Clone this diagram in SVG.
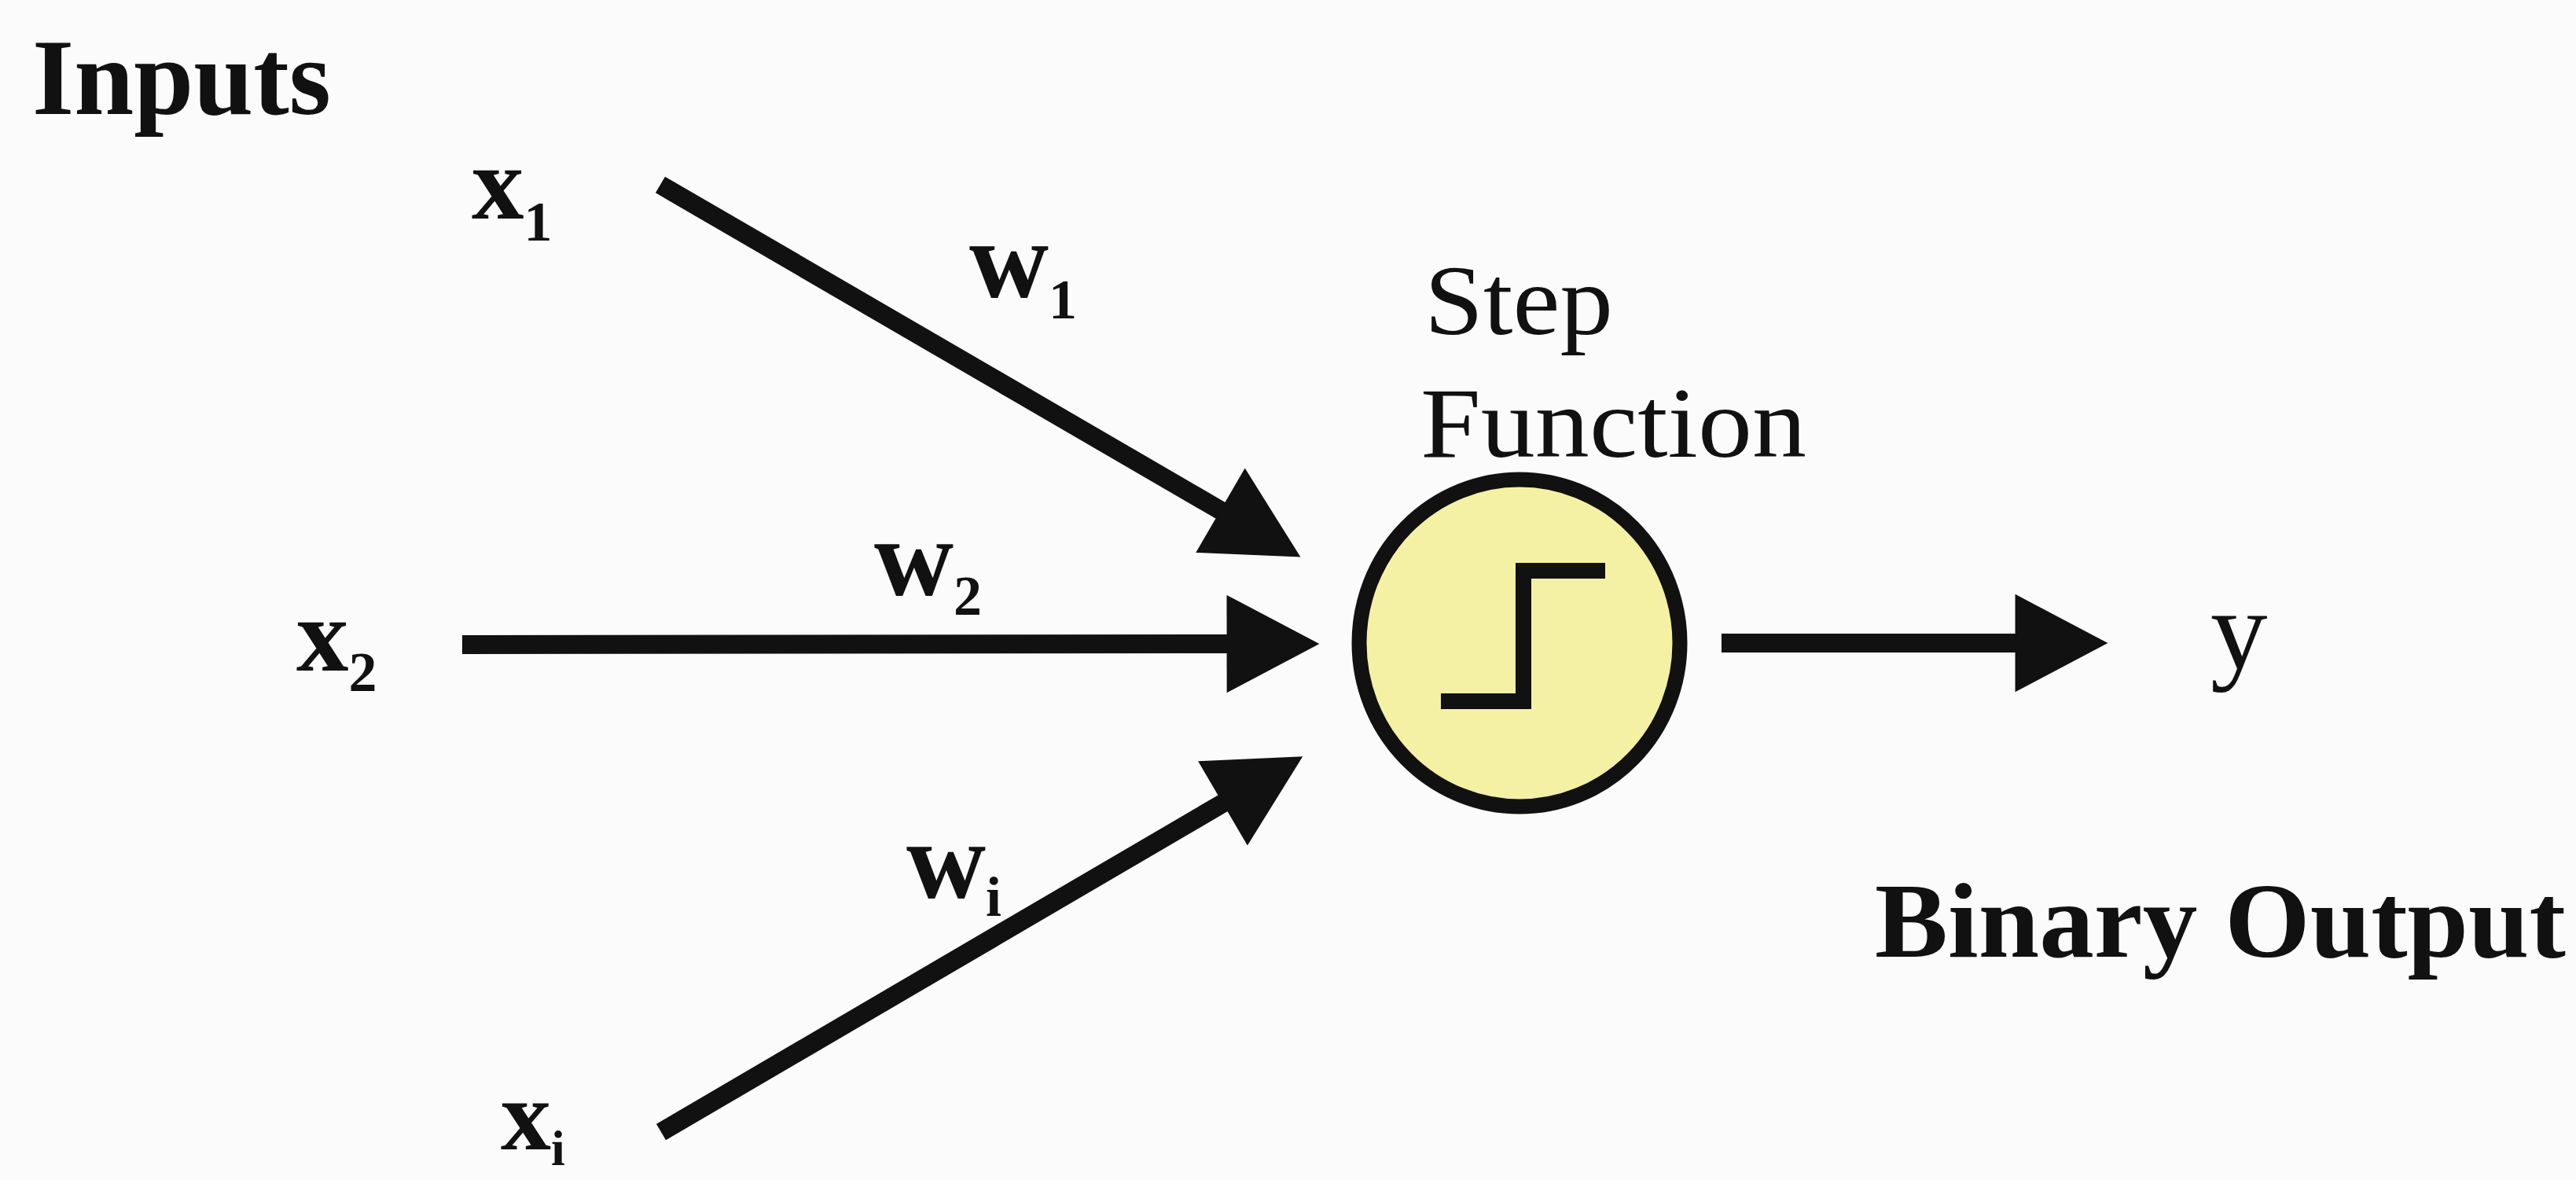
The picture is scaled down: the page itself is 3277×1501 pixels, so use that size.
<svg xmlns="http://www.w3.org/2000/svg" width="3277" height="1501" viewBox="0 0 3277 1501">
  <style>
    .lbl { font-family: "Liberation Serif", "Times New Roman", serif; fill: #111; }
    .b { font-weight: bold; }
    .conn { stroke: #111; stroke-width: 24; fill: none; stroke-linecap: butt; }
    .sub { font-size: 72px; }
  </style>
  <defs>
    <marker id="head" markerUnits="userSpaceOnUse" markerWidth="120" markerHeight="130" viewBox="0 -60 112 120" refX="20" refY="0" orient="auto" overflow="visible">
      <path d="M0,-58 L110,0 L0,58 Z" fill="#111"/>
    </marker>
  </defs>
  <rect x="0" y="0" width="3277" height="1501" fill="#fbfbfb"/>

  <g id="connectors">
    <line id="c-x1" class="conn" x1="840" y1="235" x2="1571" y2="660" marker-end="url(#head)"/>
    <line id="c-x2" class="conn" x1="588" y1="820" x2="1582" y2="819" marker-end="url(#head)"/>
    <line id="c-xi" class="conn" x1="841" y1="1440" x2="1574" y2="1011" marker-end="url(#head)"/>
    <line id="c-out" class="conn" x1="2190" y1="818" x2="2585" y2="818" marker-end="url(#head)"/>
  </g>

  <g id="title-inputs">
    <text class="lbl b" x="41" y="145" font-size="138" textLength="380" lengthAdjust="spacingAndGlyphs">Inputs</text>
  </g>

  <g id="node-x1">
    <text class="lbl b" x="600" y="278" font-size="133">x<tspan class="sub" dy="28">1</tspan></text>
  </g>
  <g id="node-x2">
    <text class="lbl b" x="377" y="853" font-size="133">x<tspan class="sub" dy="26">2</tspan></text>
  </g>
  <g id="node-xi">
    <text class="lbl b" x="637" y="1462" font-size="128">x<tspan font-size="64" dy="20">i</tspan></text>
  </g>

  <g id="weight-w1">
    <text class="lbl b" x="1233" y="378" font-size="140">w<tspan class="sub" dy="27">1</tspan></text>
  </g>
  <g id="weight-w2">
    <text class="lbl b" x="1112" y="757" font-size="140">w<tspan class="sub" dy="25">2</tspan></text>
  </g>
  <g id="weight-wi">
    <text class="lbl b" x="1153" y="1142" font-size="140">w<tspan class="sub" dy="23">i</tspan></text>
  </g>

  <g id="node-step">
    <text class="lbl" x="1812" y="425" font-size="126" textLength="240" lengthAdjust="spacingAndGlyphs">Step</text>
    <text class="lbl" x="1807" y="581" font-size="126" textLength="491" lengthAdjust="spacingAndGlyphs">Function</text>
    <ellipse cx="1933" cy="818" rx="204" ry="208" fill="#f4f1a4" stroke="#111" stroke-width="19"/>
    <path d="M1833,892 H1938 V726 H2042" fill="none" stroke="#111" stroke-width="20" stroke-linejoin="miter"/>
  </g>

  <g id="node-y">
    <text class="lbl" x="2812" y="850" font-size="145">y</text>
  </g>

  <g id="title-output">
    <text class="lbl b" x="2385" y="1217" font-size="136" textLength="879" lengthAdjust="spacingAndGlyphs">Binary Output</text>
  </g>
</svg>
